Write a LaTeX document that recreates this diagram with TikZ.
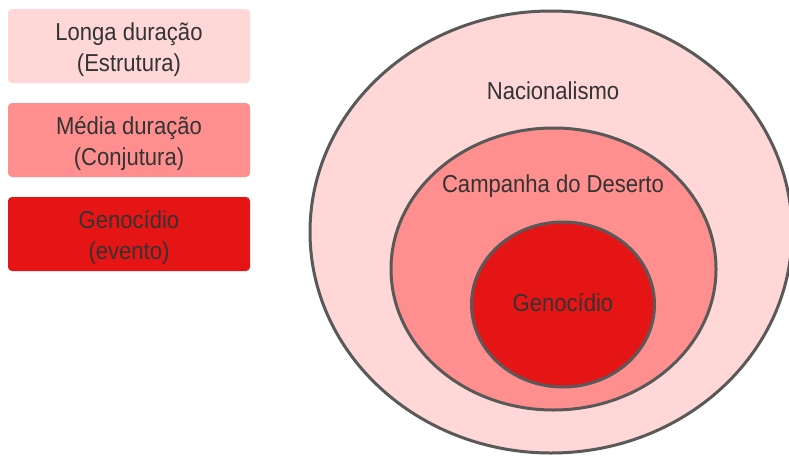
\documentclass[tikz,border=0pt]{standalone}
\usepackage{fontspec}
\setmainfont{Liberation Sans}[FakeStretch=0.9]
\usetikzlibrary{shapes.geometric}
\definecolor{pinkL}{HTML}{FFD7D7}
\definecolor{pinkM}{HTML}{FF8F8F}
\definecolor{redD}{HTML}{E51515}
\definecolor{edgeG}{HTML}{595959}
\definecolor{txt}{HTML}{333333}
\begin{document}
\begin{tikzpicture}[x=1pt,y=-1pt,
  legendbox/.style={draw=none, rounded corners=4pt, minimum width=242pt, minimum height=74pt, inner sep=0pt},
  ring/.style={ellipse, draw=edgeG, line width=3pt, inner sep=0pt},
  lbl/.style={text=txt, inner sep=0pt, align=center, font=\fontsize{24.5}{31}\selectfont}]
\useasboundingbox (0,0) rectangle (789,455);
\node[legendbox, fill=pinkL] (longa) at (129,46) {};
\node[legendbox, fill=pinkM] (media) at (129,140) {};
\node[legendbox, fill=redD] (curta) at (129,234) {};
\node[lbl] (longat) at ([yshift=-4pt]longa.center) {Longa duração\\(Estrutura)};
\node[lbl] (mediat) at ([yshift=-4pt]media.center) {Média duração\\(Conjutura)};
\node[lbl] (curtat) at ([yshift=-3.5pt]curta.center) {Genocídio\\(evento)};
\node[ring, fill=pinkL, minimum width=482pt, minimum height=442pt] (outer) at (551,232) {};
\node[ring, fill=pinkM, minimum width=325pt, minimum height=282pt] (middle) at (553.5,269) {};
\node[ring, fill=redD, minimum width=183pt, minimum height=165pt] (inner) at (563,304.5) {};
\node[lbl] (nac) at (553,91) {Nacionalismo};
\node[lbl] (camp) at (553,186) {Campanha do Deserto};
\node[lbl] (gen) at (563,303) {Genocídio};
\end{tikzpicture}
\end{document}
